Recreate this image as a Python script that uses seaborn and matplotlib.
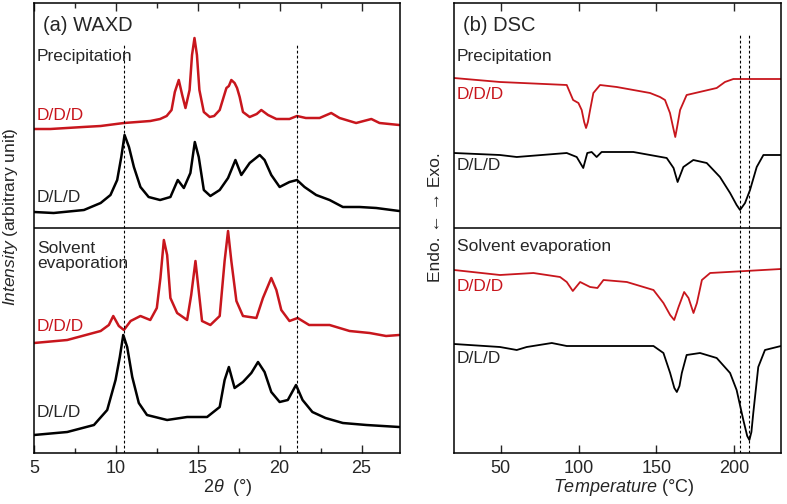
import numpy as np
import pandas as pd
import matplotlib
matplotlib.use("Agg")
import matplotlib.pyplot as plt
import seaborn as sns
from matplotlib.ticker import MultipleLocator, NullLocator

# ---- WAXD (2theta in deg, intensity in a.u. above each trace's own baseline)
waxd_pre_ddd_x = [5.0, 6.0, 7.0, 8.0, 9.07, 10.49, 11.3, 12.1, 12.7, 13.1, 13.4, 13.6, 13.84, 14.05, 14.25,
                  14.5, 14.65, 14.8, 14.95, 15.1, 15.37, 15.73, 16.0, 16.34, 16.6, 16.75, 16.9, 17.05, 17.25,
                  17.4, 17.56, 17.76, 18.17, 18.6, 18.88, 19.29, 19.8, 20.6, 21.06, 21.6, 22.44, 23.15, 23.66,
                  24.67, 25.6, 26.1, 27.3]
waxd_pre_ddd_y = [1, 1, 2, 3, 4, 7, 8, 9, 11, 14, 20, 38, 50, 35, 22,
                  40, 75, 92, 75, 40, 18, 13, 14, 20, 34, 42, 44, 50, 47,
                  42, 33, 18, 13, 16, 20, 15, 11, 11, 14, 12, 12, 17, 12,
                  7, 11, 7, 5]

waxd_pre_dld_x = [5.0, 6.2, 8.05, 9.07, 9.67, 10.08, 10.33, 10.53, 10.8, 11.1, 11.5, 12.0, 12.7, 13.33, 13.78,
                  14.15, 14.55, 14.82, 15.06, 15.37, 15.77, 16.34, 16.85, 17.3, 17.66, 18.17, 18.78, 19.08,
                  19.49, 20.0, 20.6, 21.06, 21.52, 22.23, 23.05, 23.86, 24.88, 25.9, 27.3]
waxd_pre_dld_y = [0, -1, 2, 9, 17, 32, 55, 77, 65, 45, 25, 15, 12, 15, 32,
                  24, 39, 70, 55, 22, 16, 22, 34, 52, 37, 49, 57, 52,
                  37, 25, 30, 32, 25, 17, 12, 5, 5, 4, 1]

waxd_sol_ddd_x = [5.0, 7.03, 9.07, 9.57, 9.84, 10.18, 10.49, 10.9, 11.5, 12.1, 12.5, 12.72, 12.93, 13.13, 13.33,
                  13.74, 14.35, 14.6, 14.86, 15.06, 15.26, 15.77, 16.34, 16.64, 16.85, 17.05, 17.36, 17.76,
                  18.58, 18.98, 19.49, 19.8, 20.1, 20.6, 21.1, 21.8, 23.05, 24.27, 25.5, 26.5, 27.3]
waxd_sol_ddd_y = [0, 3, 12, 18, 27, 17, 13, 22, 27, 23, 35, 65, 103, 88, 45,
                  30, 23, 48, 82, 52, 22, 18, 27, 82, 112, 82, 42, 27,
                  25, 45, 65, 53, 33, 22, 25, 18, 18, 12, 10, 7, 8]

waxd_sol_dld_x = [5.0, 7.03, 8.66, 9.47, 9.98, 10.24, 10.45, 10.69, 11.0, 11.4, 11.9, 13.13, 14.35, 15.57, 16.34,
                  16.64, 16.9, 17.25, 17.76, 18.27, 18.68, 19.08, 19.49, 20.0, 20.5, 21.0, 21.4, 22.0, 22.8,
                  23.86, 25.3, 27.3]
waxd_sol_dld_y = [0, 3, 10, 25, 55, 78, 100, 88, 58, 32, 20, 15, 18, 18, 28,
                  55, 68, 47, 53, 62, 73, 63, 43, 33, 35, 50, 35, 23, 17,
                  12, 10, 8]

# ---- DSC (temperature in C, heat flow in a.u., endotherm negative)
dsc_pre_ddd_x = [20, 49.5, 92.4, 96.5, 99.9, 102, 103.6, 104.8, 106.0, 107.4, 109.5, 113.8, 124.5, 135.2,
                 145.9, 152.3, 155.5, 158.7, 160.8, 162.1, 163.4, 165.2, 169.4, 188.7, 194, 199.4, 230]
dsc_pre_ddd_y = [0, -4, -7, -22, -25, -32, -44, -50, -44, -32, -15, -7, -9, -12,
                 -15, -19, -22, -35, -50, -59, -48, -32, -17, -10, -4, -1, -1]

dsc_pre_dld_x = [20, 49.5, 60.3, 92.4, 98.8, 103.0, 105.6, 108.4, 111.6, 114.8, 135.2, 156.6, 161, 163.6,
                 167.3, 173.7, 182.3, 190.8, 197.3, 201.5, 203.7, 206.9, 210.1, 214.4, 218.7, 230]
dsc_pre_dld_y = [0, -2, -4, 0, -4, -15, 0, 1, -4, 1, 1, -5, -15, -29,
                 -14, -7, -10, -24, -40, -52, -57, -50, -37, -14, -2, -2]

dsc_sol_ddd_x = [20, 49.5, 71, 88.1, 92.4, 96.3, 101, 107.4, 112.1, 116, 131, 148.1, 154.5, 158.8, 161.4,
                 164.2, 167.8, 170.6, 173.8, 176, 179.2, 184.5, 230]
dsc_sol_ddd_y = [0, -5, -3, -7, -12, -21, -12, -17, -18, -10, -12, -20, -33, -45, -50,
                 -37, -22, -28, -43, -33, -10, -3, 1]

dsc_sol_dld_x = [20, 49.5, 60.3, 66.7, 82.8, 92.4, 148.1, 154.5, 158.8, 161.5, 163.1, 164.8, 166.3, 169.4,
                 178, 188.7, 197.3, 201.5, 205.8, 208.3, 209.7, 211.0, 212.2, 215.4, 219.7, 230]
dsc_sol_dld_y = [0, -3, -6, -3, 1, -2, -2, -9, -29, -44, -48, -42, -29, -11,
                 -9, -14, -29, -46, -76, -92, -96, -88, -69, -23, -6, -2]

# vertical offsets of stacked traces (axis units)
waxd_offsets = [323, 241, 110, 18]
dsc_offsets = [375, 300, 183, 109]
waxd_marks = [10.5, 21.05]
dsc_marks = [203.7, 209.7]

RED = "#c8161d"

sns.set_style("ticks")
plt.rcParams['font.family'] = ['Liberation Sans', 'DejaVu Sans']
plt.rcParams['mathtext.fontset'] = 'custom'
plt.rcParams['mathtext.rm'] = 'Liberation Sans'
plt.rcParams['mathtext.it'] = 'Liberation Sans:italic'

fig = plt.figure(figsize=(7.87, 5.04), dpi=100)
ax1 = fig.add_axes([34/787, 51/504, 366/787, 450/504])
ax2 = fig.add_axes([454/787, 51/504, 327/787, 450/504])

waxd = [(waxd_pre_ddd_x, waxd_pre_ddd_y, RED), (waxd_pre_dld_x, waxd_pre_dld_y, 'black'),
        (waxd_sol_ddd_x, waxd_sol_ddd_y, RED), (waxd_sol_dld_x, waxd_sol_dld_y, 'black')]
for (x, y, c), off in zip(waxd, waxd_offsets):
    sns.lineplot(x=x, y=np.array(y) + off, ax=ax1, color=c, lw=1.8)

dsc = [(dsc_pre_ddd_x, dsc_pre_ddd_y, RED), (dsc_pre_dld_x, dsc_pre_dld_y, 'black'),
       (dsc_sol_ddd_x, dsc_sol_ddd_y, RED), (dsc_sol_dld_x, dsc_sol_dld_y, 'black')]
for (x, y, c), off in zip(dsc, dsc_offsets):
    sns.lineplot(x=x, y=np.array(y) + off, ax=ax2, color=c, lw=1.3)

ax1.vlines(waxd_marks, 0, 408, colors='black', linestyles=(0, (2.5, 2)), lw=0.8)
ax2.vlines(dsc_marks, 0, 418, colors='black', linestyles=(0, (2.5, 2)), lw=0.8)

for ax in (ax1, ax2):
    ax.set_ylim(0, 450)
    ax.axhline(225, color='black', lw=1.1)
    ax.yaxis.set_major_locator(NullLocator())
    ax.set_xlabel("")
    ax.set_ylabel("")
    ax.tick_params(axis='x', which='both', direction='in', top=True, labelsize=13, pad=5, width=1)
    ax.tick_params(axis='x', which='major', length=6)
    ax.tick_params(axis='x', which='minor', length=3.5)
    for s in ax.spines.values():
        s.set_linewidth(1.1)
        s.set_color('black')

ax1.set_xlim(5, 27.35)
ax1.xaxis.set_major_locator(MultipleLocator(5))
ax1.xaxis.set_minor_locator(MultipleLocator(2.5))
ax2.set_xlim(20, 230)
ax2.xaxis.set_major_locator(MultipleLocator(50))

fig.text(228/787, 1 - 488/504, r"$2θ$  (°)", ha='center', va='center', fontsize=13)
fig.text(624/787, 1 - 488/504, r"$Temperature$ (°C)", ha='center', va='center', fontsize=13)
fig.text(11/787, 1 - 217/504, r"$Intensity$ (arbitrary unit)", rotation=90,
         ha='center', va='center', fontsize=12.5)
fig.text(435/787, 1 - 217/504, "Endo. ← → Exo.", rotation=90, ha='center', va='center', fontsize=12.5)

kw = dict(transform=ax1.transAxes, va='center', ha='left')
ax1.text(0.025, 0.951, "(a) WAXD", fontsize=14.5, **kw)
ax1.text(0.008, 0.88, "Precipitation", fontsize=12.5, **kw)
ax1.text(0.008, 0.749, "D/D/D", fontsize=12.5, color=RED, **kw)
ax1.text(0.008, 0.567, "D/L/D", fontsize=12.5, **kw)
ax1.text(0.008, 0.438, "Solvent\nevaporation", fontsize=12.5, linespacing=1.0, **kw)
ax1.text(0.008, 0.282, "D/D/D", fontsize=12.5, color=RED, **kw)
ax1.text(0.008, 0.089, "D/L/D", fontsize=12.5, **kw)

kw = dict(transform=ax2.transAxes, va='center', ha='left')
ax2.text(0.028, 0.951, "(b) DSC", fontsize=14.5, **kw)
ax2.text(0.009, 0.88, "Precipitation", fontsize=12.5, **kw)
ax2.text(0.009, 0.796, "D/D/D", fontsize=12.5, color=RED, **kw)
ax2.text(0.009, 0.638, "D/L/D", fontsize=12.5, **kw)
ax2.text(0.009, 0.458, "Solvent evaporation", fontsize=12.5, **kw)
ax2.text(0.009, 0.369, "D/D/D", fontsize=12.5, color=RED, **kw)
ax2.text(0.009, 0.211, "D/L/D", fontsize=12.5, **kw)

fig.savefig("out.png", dpi=100)
